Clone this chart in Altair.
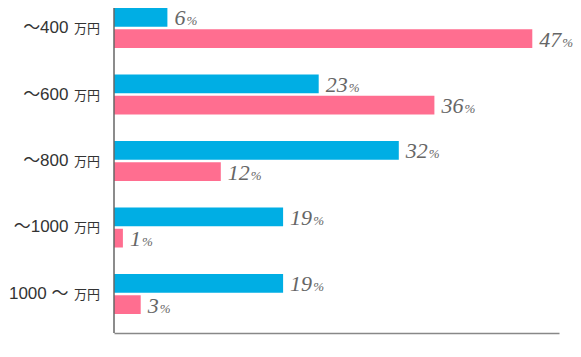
import altair as alt
import pandas as pd

categories = ["〜400", "〜600", "〜800", "〜1000", "1000 〜"]
unit = "万円"
series = ["系列1", "系列2"]
values_1 = [6, 23, 32, 19, 19]
values_2 = [47, 36, 12, 1, 3]
colors = ["#00AEE4", "#FF6E90"]

rows = []
for i, c in enumerate(categories):
    rows.append({"cat": c, "series": series[0], "value": values_1[i]})
    rows.append({"cat": c, "series": series[1], "value": values_2[i]})
df = pd.DataFrame(rows)

W, H = 445, 325

y_enc = alt.Y(
    "cat:N", sort=categories,
    scale=alt.Scale(range=[0, 306], paddingInner=0.398, paddingOuter=0),
    axis=alt.Axis(title=None, domain=False, ticks=False, labelFontSize=17,
                  labelPadding=46, labelColor="#333", labelFontWeight="normal",
                  labelFont="Liberation Sans, Noto Sans CJK JP"),
)
yoff = alt.YOffset("series:N", sort=series, scale=alt.Scale(paddingInner=0.12))
x_enc = alt.X("value:Q", scale=alt.Scale(domain=[0, 50]),
              axis=alt.Axis(title=None, labels=False, ticks=False, grid=False,
                            domainColor="#888", domainWidth=1.5))

base = alt.Chart(df)

bars = base.mark_bar().encode(
    x=x_enc, y=y_enc, yOffset=yoff,
    color=alt.Color("series:N", scale=alt.Scale(domain=series, range=colors), legend=None),
)

nums = base.mark_text(align="left", baseline="alphabetic", dx=7, dy=8,
                      font="Liberation Serif", fontStyle="italic", fontSize=22,
                      color="#666").encode(x=x_enc, y=y_enc, yOffset=yoff, text="value:Q")

pct = base.transform_calculate(
    px="datum.value + length(toString(datum.value)) * 1.24"
).mark_text(align="left", baseline="alphabetic", dx=8, dy=8, text="%",
            font="Liberation Serif", fontStyle="italic", fontSize=13,
            color="#666").encode(x=alt.X("px:Q", scale=alt.Scale(domain=[0, 50])),
                                 y=y_enc, yOffset=yoff)

units = alt.Chart(pd.DataFrame({"cat": categories})).mark_text(
    align="right", baseline="middle", fontSize=13, text=unit, dy=1,
    font="Liberation Sans, Noto Sans CJK JP", color="#333",
).encode(y=y_enc, x=alt.value(-14))

rule = alt.Chart(pd.DataFrame({"a": [0]})).mark_rule(color="#666", strokeWidth=1.5).encode(
    x=alt.value(0), y=alt.value(0), y2=alt.value(H)
)

chart = alt.layer(bars, nums, pct, units, rule).properties(
    width=W, height=H,
    padding={"left": 106, "top": 0, "right": 14, "bottom": 10},
    autosize=alt.AutoSizeParams(type="none"),
).configure_view(stroke=None)

chart.save("out.html", embed_options={"renderer": "svg", "actions": False})
